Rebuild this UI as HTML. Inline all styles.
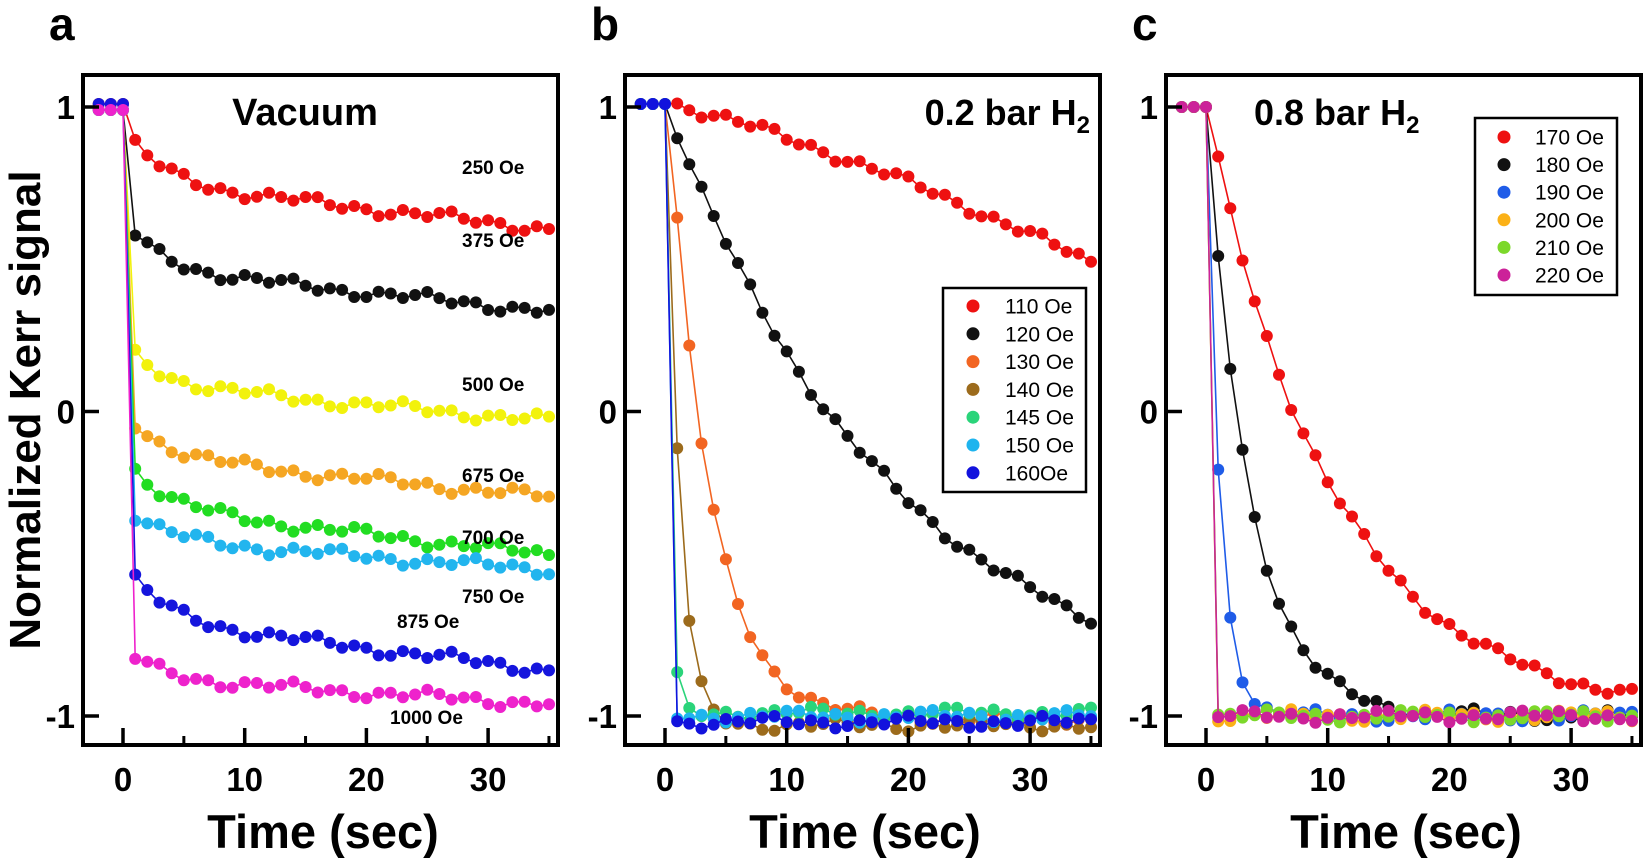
<!DOCTYPE html>
<html><head><meta charset="utf-8"><style>
html,body{margin:0;padding:0;background:#fff;}
svg{display:block;font-family:"Liberation Sans",Arial,sans-serif;}
</style></head><body>
<svg id="s" width="1650" height="861" viewBox="0 0 1650 861" xmlns="http://www.w3.org/2000/svg"></svg>
<script>
var S=document.getElementById('s'),out='';
var X0=[123,665,1206],PX=12.17,Y0=411.5,PY=304.5;
function px(p,t){return X0[p]+t*PX;}
function py(v){return Y0-v*PY;}
function noise(i,k){return Math.sin(i*1.7+k*3.1)*0.012+Math.sin(i*0.53+k)*0.01;}
function series(p,fn,col,k,r){
  var pts=[];
  for(var t=-2;t<=35;t++){pts.push([px(p,t),py(fn(t)+(t>0?noise(t,k):0))]);}
  var d='M'+pts.map(function(q){return q[0].toFixed(1)+','+q[1].toFixed(1)}).join('L');
  out+='<path d="'+d+'" fill="none" stroke="'+col+'" stroke-width="1.6"/>';
  pts.forEach(function(q){out+='<circle cx="'+q[0].toFixed(1)+'" cy="'+q[1].toFixed(1)+'" r="'+(r||6)+'" fill="'+col+'"/>';});
}
function frame(p,letter){
  var L=X0[p]-40,R=L+475;
  out+='<rect x="'+L+'" y="75" width="'+(R-L)+'" height="670" fill="none" stroke="#000" stroke-width="4"/>';
  [0,10,20,30].forEach(function(t){var x=px(p,t);out+='<line x1="'+x+'" y1="745" x2="'+x+'" y2="728" stroke="#000" stroke-width="3.5"/>';
   out+='<text x="'+x+'" y="791" font-size="33" font-weight="bold" text-anchor="middle">'+t+'</text>';});
  [5,15,25,35].forEach(function(t){var x=px(p,t);out+='<line x1="'+x+'" y1="745" x2="'+x+'" y2="736" stroke="#000" stroke-width="3"/>';});
  [[1,'1'],[0,'0'],[-1,'-1']].forEach(function(a){var y=py(a[0]);out+='<line x1="'+L+'" y1="'+y+'" x2="'+(L+16)+'" y2="'+y+'" stroke="#000" stroke-width="3.5"/>';
   out+='<text x="'+(L-8)+'" y="'+(y+12)+'" font-size="33" font-weight="bold" text-anchor="end">'+a[1]+'</text>';});
  out+='<text x="'+(L+240)+'" y="848" font-size="47" font-weight="bold" text-anchor="middle">Time (sec)</text>';
  out+='<text x="'+(L-34)+'" y="40" font-size="46" font-weight="bold">'+letter+'</text>';
}
// Panel a
var A=[['#ee1111',0.875,0.60,'250 Oe',462,174],['#111',0.58,0.33,'375 Oe',462,247],['#f2f20c',0.185,-0.03,'500 Oe',462,391],
['#f5a623',-0.04,-0.28,'675 Oe',462,482],['#22dd22',-0.19,-0.47,'700 Oe',462,544],['#22b5ee',-0.34,-0.52,'750 Oe',462,603],
['#1515dd',-0.55,-0.85,'875 Oe',397,628],['#ee22cc',-0.81,-0.96,'1000 Oe',390,724]];
A.forEach(function(a,k){series(0,function(t){if(t<=0)return 1+(k%3==0?0.01:-0.01);var u=t-1;return a[1]+(a[2]-a[1])*(0.45*(1-Math.exp(-u/3))+0.55*u/34);},a[0],k);});
frame(0,'a');
A.forEach(function(a){out+='<text x="'+a[4]+'" y="'+a[5]+'" font-size="19" font-weight="bold">'+a[3]+'</text>';});
out+='<text x="305" y="125" font-size="38" font-weight="bold" text-anchor="middle">Vacuum</text>';
// Panel b
var B=[['#ee1111','110 Oe',0,0],['#111','120 Oe',0.2,19],['#f26522','130 Oe',0.3,3.4],['#9c6b1c','140 Oe',0.2,1.0],
['#2ad47a','145 Oe',0,0.35],['#1eb4ee','150 Oe',0,0.12],['#1212dd','160Oe',0,0.08]];
var bend=[0,-1,-1.01,-1.03,-0.99,-1.0,-1.02];
B.forEach(function(b,k){series(1,function(t){if(t<=0)return 1.01;
 if(k==0)return 1.02-0.011*t-0.00012*t*t;
 var e=Math.exp(-Math.max(0,t-b[2])/b[3]);return bend[k]+(1-bend[k])*e;},b[0],k+10);});
frame(1,'b');
out+='<rect x="943" y="288" width="143" height="204" fill="#fff" stroke="#000" stroke-width="2.5"/>';
B.forEach(function(b,k){var y=306+k*27.8;out+='<circle cx="973" cy="'+y+'" r="6.5" fill="'+b[0]+'"/><text x="1005" y="'+(y+7.5)+'" font-size="21">'+b[1]+'</text>';});
out+='<text x="1090" y="125" font-size="36" font-weight="bold" text-anchor="end">0.2 bar H<tspan font-size="24" dy="8">2</tspan></text>';
// Panel c
var C=[['#ee1111','170 Oe',10.5],['#111','180 Oe',3.6],['#1f5ce8','190 Oe',1.1],['#fbb117','200 Oe',0.12],['#7cd82a','210 Oe',0.15],['#cc2299','220 Oe',0.08]];
C.forEach(function(c,k){series(2,function(t){if(t<=0)return 1.0;var e=Math.exp(-t/c[2]);return -1+2*e;},c[0],k+20);});
frame(2,'c');
out+='<rect x="1475" y="118" width="142" height="177" fill="#fff" stroke="#000" stroke-width="2.5"/>';
C.forEach(function(c,k){var y=137+k*27.6;out+='<circle cx="1504" cy="'+y+'" r="6.5" fill="'+c[0]+'"/><text x="1535" y="'+(y+7.5)+'" font-size="21">'+c[1]+'</text>';});
out+='<text x="1254" y="125" font-size="36" font-weight="bold">0.8 bar H<tspan font-size="24" dy="8">2</tspan></text>';
out+='<text transform="translate(40,410) rotate(-90)" font-size="44" font-weight="bold" text-anchor="middle">Normalized Kerr signal</text>';
S.innerHTML=out;
</script>
</body></html>
